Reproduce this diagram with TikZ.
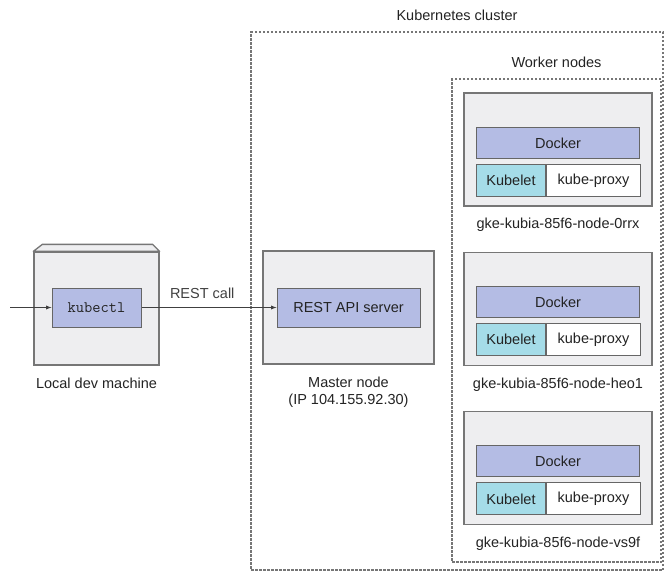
\documentclass[tikz,border=0pt]{standalone}
\usepackage{fontspec}
\setmainfont{Liberation Sans}
\usepackage{xcolor}
\usetikzlibrary{arrows,positioning}

\definecolor{boxgray}{RGB}{238,238,240}
\definecolor{edgegray}{RGB}{118,118,118}
\definecolor{lavender}{RGB}{180,188,228}
\definecolor{kubecyan}{RGB}{165,220,232}
\definecolor{textgray}{RGB}{35,35,35}

\begin{document}
\begin{tikzpicture}[
    x=1pt, y=-1pt,
    font=\fontsize{14.5}{17}\selectfont, text=textgray,
    machine/.style={rectangle, draw=edgegray, fill=boxgray, line width=1.3pt, minimum width=#1, minimum height=113pt},
    comp/.style={rectangle, draw=black!60, fill=lavender, line width=1pt, inner sep=0pt, minimum width=#1, minimum height=39pt},
    part/.style={rectangle, draw=black!60, line width=1pt, inner sep=0pt, minimum width=#1, minimum height=32pt},
    cluster/.style={rectangle, draw=edgegray, dash pattern=on 2.5pt off 1.5pt, line width=1.2pt},
    caption/.style={inner sep=0pt, text height=10pt, text depth=3pt, align=center},
    line/.style={draw, -latex, line width=0.9pt, black!75}
]
\useasboundingbox (0,0) rectangle (665,571);

% cluster and worker frames
\node [cluster, minimum width=412pt, minimum height=538pt] (cluster) at (457,301) {};
\node [caption, above=8pt of cluster.north] (clusterlbl) {Kubernetes cluster};
\node [cluster, minimum width=209pt, minimum height=483pt] (workers) at (556.5,320.5) {};
\node [caption, above=8pt of workers.north] (workerslbl) {Worker nodes};

% local machine
\node [machine=125pt] (local) at (96.5,308.5) {};
\fill [boxgray, draw=edgegray, line width=1.3pt, line join=round]
    (local.north west) -- ([shift={(9pt,7pt)}]local.north west)
    -- ([shift={(-7pt,7pt)}]local.north east) -- (local.north east) -- cycle;
\node [comp=89pt] (kubectl) at (96.5,307.5) {\fontsize{16}{18}\ttfamily kubectl};
\node [caption, below=13pt of local] (locallbl) {Local dev machine};

% master node
\node [machine=171pt] (master) at (348.5,307.5) {};
\node [comp=143pt] (api) at (348.5,307.5) {REST API server};
\node [inner sep=0pt, align=center, below=12pt of master] (masterlbl) {Master node\\(IP 104.155.92.30)};

% worker nodes
\node [machine=188pt] (w1) at (558,149.5) {};
\node [comp=163pt, minimum height=31pt] (d1) at ([yshift=-50.5pt]w1.north) {Docker};
\node [part=69pt, fill=kubecyan, below right=5pt and 0pt of d1.south west] (k1) {Kubelet};
\node [part=94pt, fill=white, right=0pt of k1] (p1) {kube-proxy};
\node [caption, below=12pt of w1] (w1lbl) {gke-kubia-85f6-node-0rrx};

\node [machine=188pt, below=45pt of w1] (w2) {};
\node [comp=163pt, minimum height=31pt] (d2) at ([yshift=-50.5pt]w2.north) {Docker};
\node [part=69pt, fill=kubecyan, below right=5pt and 0pt of d2.south west] (k2) {Kubelet};
\node [part=94pt, fill=white, right=0pt of k2] (p2) {kube-proxy};
\node [caption, below=12pt of w2] (w2lbl) {gke-kubia-85f6-node-heo1};

\node [machine=188pt, below=45pt of w2] (w3) {};
\node [comp=163pt, minimum height=31pt] (d3) at ([yshift=-50.5pt]w3.north) {Docker};
\node [part=69pt, fill=kubecyan, below right=5pt and 0pt of d3.south west] (k3) {Kubelet};
\node [part=94pt, fill=white, right=0pt of k3] (p3) {kube-proxy};
\node [caption, below=12pt of w3] (w3lbl) {gke-kubia-85f6-node-vs9f};

% connectors
\coordinate (user) at (10,307.5);
\path [line] (user) -- (kubectl);
\path [line] (kubectl) -- node[above=5pt, pos=0.45] {REST call} (api);

\end{tikzpicture}
\end{document}
